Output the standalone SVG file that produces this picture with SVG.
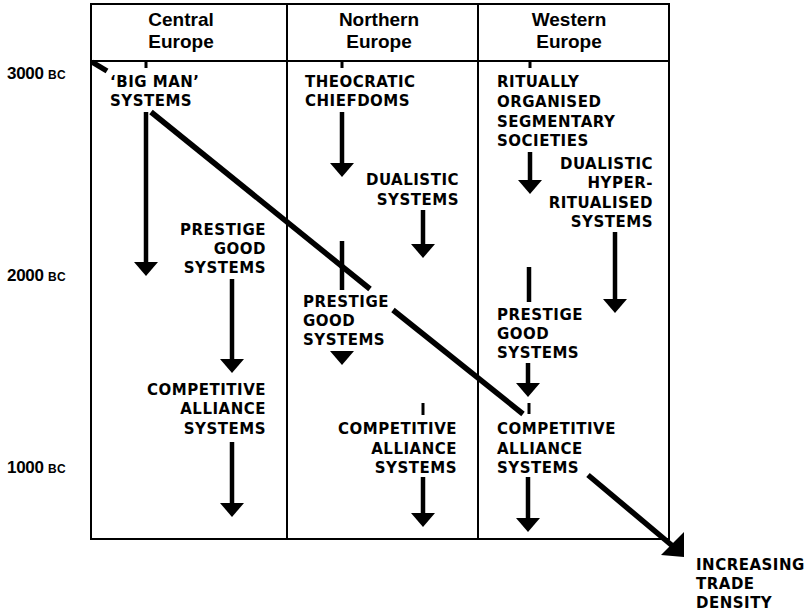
<svg xmlns="http://www.w3.org/2000/svg" width="806" height="612" viewBox="0 0 806 612">
  <style>
    .frame { fill: none; stroke: #000; stroke-width: 2; }
    .hdr { font-family: "Liberation Sans", Arial, sans-serif; font-weight: bold; font-size: 19px; text-anchor: middle; fill: #000; }
    .lbl { font-family: "DejaVu Sans", "Liberation Sans", sans-serif; font-weight: bold; font-size: 15px; letter-spacing: 0.5px; fill: #000; }
    .end { text-anchor: end; }
    .yr { font-family: "Liberation Sans", Arial, sans-serif; font-weight: bold; font-size: 17px; letter-spacing: -0.3px; fill: #000; }
    .yr tspan { font-size: 12px; letter-spacing: 0.3px; }
    .shaft { stroke: #000; stroke-width: 4.5; fill: none; }
    .tick { stroke: #000; stroke-width: 3; fill: none; }
    .trend { stroke: #000; stroke-width: 5.5; fill: none; }
  </style>
  <defs>
    <marker id="head" viewBox="0 -12 14 24" refX="4" refY="0" markerWidth="14" markerHeight="24" markerUnits="userSpaceOnUse" orient="auto">
      <path d="M0,-12 L14,0 L0,12 Z" fill="#000"/>
    </marker>
  </defs>
  <rect width="806" height="612" fill="#fff"/>

  <!-- table frame -->
  <g id="frame">
    <rect class="frame" x="91" y="4" width="578" height="535"/>
    <line class="frame" x1="91" y1="61" x2="669" y2="61"/>
    <line class="frame" x1="287" y1="4" x2="287" y2="539"/>
    <line class="frame" x1="478" y1="4" x2="478" y2="539"/>
  </g>

  <!-- column headings -->
  <g id="head-central"><text class="hdr" x="181" y="26">Central</text><text class="hdr" x="181" y="48">Europe</text></g>
  <g id="head-northern"><text class="hdr" x="379" y="26">Northern</text><text class="hdr" x="379" y="48">Europe</text></g>
  <g id="head-western"><text class="hdr" x="569" y="26">Western</text><text class="hdr" x="569" y="48">Europe</text></g>

  <!-- time axis -->
  <g id="y3000"><text class="yr" x="7" y="79">3000 <tspan>BC</tspan></text></g>
  <g id="y2000"><text class="yr" x="7" y="281">2000 <tspan>BC</tspan></text></g>
  <g id="y1000"><text class="yr" x="7" y="473">1000 <tspan>BC</tspan></text></g>

  <!-- Central Europe -->
  <g id="c-bigman">
    <text class="lbl" x="110" y="87">‘BIG MAN’</text>
    <text class="lbl" x="110" y="106">SYSTEMS</text>
  </g>
  <g id="c-prestige">
    <text class="lbl end" x="266" y="235">PRESTIGE</text>
    <text class="lbl end" x="266" y="254">GOOD</text>
    <text class="lbl end" x="266" y="273">SYSTEMS</text>
  </g>
  <g id="c-competitive">
    <text class="lbl end" x="266" y="395">COMPETITIVE</text>
    <text class="lbl end" x="266" y="414">ALLIANCE</text>
    <text class="lbl end" x="266" y="434">SYSTEMS</text>
  </g>

  <!-- Northern Europe -->
  <g id="n-theocratic">
    <text class="lbl" x="305" y="87">THEOCRATIC</text>
    <text class="lbl" x="305" y="106">CHIEFDOMS</text>
  </g>
  <g id="n-dualistic">
    <text class="lbl end" x="459" y="185">DUALISTIC</text>
    <text class="lbl end" x="459" y="205">SYSTEMS</text>
  </g>
  <g id="n-prestige">
    <text class="lbl" x="303" y="307">PRESTIGE</text>
    <text class="lbl" x="303" y="326">GOOD</text>
    <text class="lbl" x="303" y="345">SYSTEMS</text>
  </g>
  <g id="n-competitive">
    <text class="lbl end" x="457" y="434">COMPETITIVE</text>
    <text class="lbl end" x="457" y="454">ALLIANCE</text>
    <text class="lbl end" x="457" y="473">SYSTEMS</text>
  </g>

  <!-- Western Europe -->
  <g id="w-ritual">
    <text class="lbl" x="497" y="87">RITUALLY</text>
    <text class="lbl" x="497" y="107">ORGANISED</text>
    <text class="lbl" x="497" y="127">SEGMENTARY</text>
    <text class="lbl" x="497" y="146">SOCIETIES</text>
  </g>
  <g id="w-dualistic">
    <text class="lbl end" x="653" y="169">DUALISTIC</text>
    <text class="lbl end" x="653" y="188">HYPER-</text>
    <text class="lbl end" x="653" y="208">RITUALISED</text>
    <text class="lbl end" x="653" y="227">SYSTEMS</text>
  </g>
  <g id="w-prestige">
    <text class="lbl" x="497" y="320">PRESTIGE</text>
    <text class="lbl" x="497" y="339">GOOD</text>
    <text class="lbl" x="497" y="358">SYSTEMS</text>
  </g>
  <g id="w-competitive">
    <text class="lbl" x="497" y="434">COMPETITIVE</text>
    <text class="lbl" x="497" y="454">ALLIANCE</text>
    <text class="lbl" x="497" y="473">SYSTEMS</text>
  </g>

  <g id="trade-label">
    <text class="lbl" x="696" y="570">INCREASING</text>
    <text class="lbl" x="696" y="589">TRADE</text>
    <text class="lbl" x="696" y="608">DENSITY</text>
  </g>

  <!-- connectors -->
  <g id="connectors">
    <!-- Central column -->
    <line class="tick" x1="146" y1="61" x2="146" y2="68"/>
    <line class="shaft" x1="146" y1="112" x2="146" y2="266" marker-end="url(#head)"/>
    <line class="shaft" x1="232" y1="279" x2="232" y2="363" marker-end="url(#head)"/>
    <line class="shaft" x1="232" y1="442" x2="232" y2="507" marker-end="url(#head)"/>

    <!-- Northern column -->
    <line class="tick" x1="342" y1="61" x2="342" y2="68"/>
    <line class="shaft" x1="342" y1="112" x2="342" y2="167" marker-end="url(#head)"/>
    <line class="shaft" x1="423" y1="210" x2="423" y2="248" marker-end="url(#head)"/>
    <line class="shaft" x1="342" y1="241" x2="342" y2="290"/>
    <polygon points="330,351 354,351 342,365" fill="#000"/>
    <line class="tick" x1="423" y1="403" x2="423" y2="415"/>
    <line class="shaft" x1="423" y1="477" x2="423" y2="517" marker-end="url(#head)"/>

    <!-- Western column -->
    <line class="tick" x1="530" y1="61" x2="530" y2="68"/>
    <line class="shaft" x1="530" y1="152" x2="530" y2="184" marker-end="url(#head)"/>
    <line class="shaft" x1="615" y1="232" x2="615" y2="303" marker-end="url(#head)"/>
    <line class="shaft" x1="529" y1="267" x2="529" y2="302"/>
    <line class="shaft" x1="528" y1="363" x2="528" y2="387" marker-end="url(#head)"/>
    <line class="tick" x1="529" y1="403" x2="529" y2="414"/>
    <line class="shaft" x1="528" y1="477" x2="528" y2="522" marker-end="url(#head)"/>

    <!-- trade density trend, broken where it passes behind labels -->
    <line class="trend" x1="92" y1="62" x2="107" y2="71"/>
    <line class="trend" x1="151" y1="112" x2="370" y2="289"/>
    <line class="trend" x1="393" y1="310" x2="523" y2="414"/>
    <line class="trend" x1="588" y1="475" x2="675" y2="548"/>
    <polygon points="684,557 661,555 684,532" fill="#000"/>
  </g>
</svg>
